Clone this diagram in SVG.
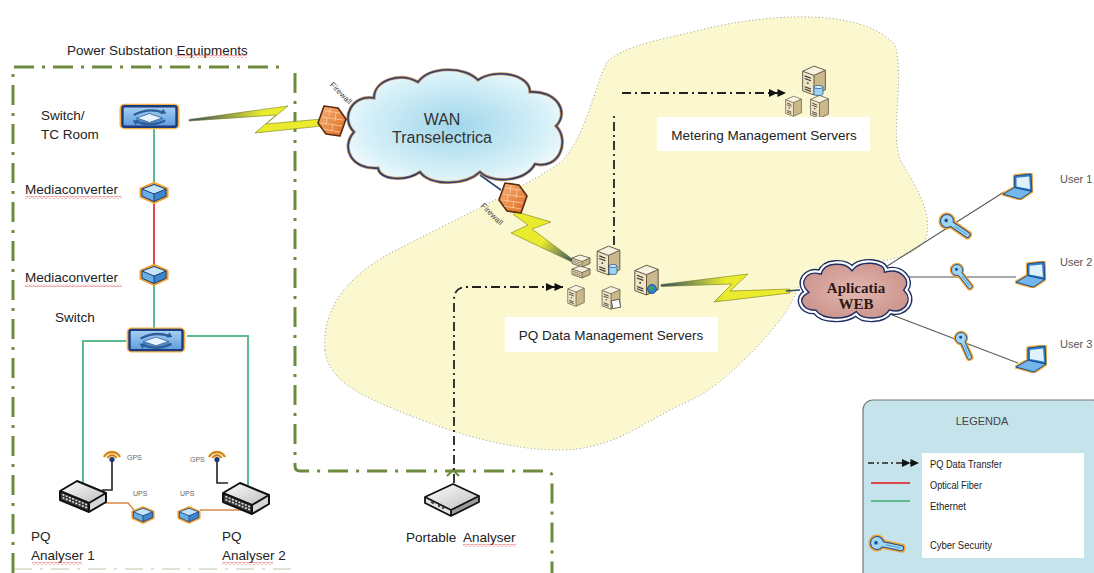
<svg xmlns="http://www.w3.org/2000/svg" xmlns:xlink="http://www.w3.org/1999/xlink" width="1094" height="573" viewBox="0 0 1094 573">
  <style>
    .lbl { font-family: "Liberation Sans", Arial, sans-serif; font-size: 13.5px; fill: #222; }
    .small { font-family: "Liberation Sans", Arial, sans-serif; font-size: 7px; fill: #666; }
    .user { font-family: "Liberation Sans", Arial, sans-serif; font-size: 11px; fill: #555; }
    .leg { font-family: "Liberation Sans", Arial, sans-serif; font-size: 11px; fill: #222; }
    .fw { font-family: "Liberation Sans", Arial, sans-serif; font-size: 8px; fill: #444; }
    .boundary { fill: none; stroke: #6e8b3d; stroke-width: 3; stroke-dasharray: 20 8 3 8; }
    .flow { fill: none; stroke: #222; stroke-width: 1.8; stroke-dasharray: 9 4 2 4; }
    .eth { fill: none; stroke: #5dba8c; stroke-width: 2; }
    .fiber { fill: none; stroke: #e0474c; stroke-width: 2; }
    .thin { fill: none; stroke: #555; stroke-width: 1.1; }
    .bolt { stroke: #7b7b1c; stroke-width: 0.6; stroke-linejoin: miter; }
    .tail { fill: none; stroke: #2c4a6e; stroke-width: 1.6; }
    .squig { fill: url(#squiggle); }
  </style>
  <defs>
    <pattern id="squiggle" width="4" height="3" patternUnits="userSpaceOnUse">
      <path d="M0,2.2 L2,0.6 L4,2.2" fill="none" stroke="#e04040" stroke-width="0.7"/>
    </pattern>
    <marker id="dbl" markerUnits="userSpaceOnUse" markerWidth="18" markerHeight="9" refX="17" refY="4.5" orient="auto">
      <path d="M0,0.5 L8.5,4.5 L0,8.5 Z M8.5,0.5 L17,4.5 L8.5,8.5 Z" fill="#111"/>
    </marker>
    <radialGradient id="wanFill" cx="0.5" cy="0.5" r="0.6">
      <stop offset="0" stop-color="#9fd6ea"/>
      <stop offset="0.7" stop-color="#d6f0f8"/>
      <stop offset="1" stop-color="#f6fcfe"/>
    </radialGradient>
    <radialGradient id="webFill" cx="0.5" cy="0.5" r="0.6">
      <stop offset="0" stop-color="#e2b8b0"/>
      <stop offset="1" stop-color="#c98f88"/>
    </radialGradient>
    <linearGradient id="swFill" x1="0" y1="0" x2="0" y2="1">
      <stop offset="0" stop-color="#a9d2f3"/>
      <stop offset="1" stop-color="#5d9bdc"/>
    </linearGradient>
    <linearGradient id="fwFill" x1="0" y1="0" x2="1" y2="1">
      <stop offset="0" stop-color="#f7b27a"/>
      <stop offset="1" stop-color="#dd6a22"/>
    </linearGradient>
    <linearGradient id="boxTop" x1="0" y1="0" x2="1" y2="1">
      <stop offset="0" stop-color="#ffffff"/>
      <stop offset="1" stop-color="#bdbdbd"/>
    </linearGradient>
    <!-- radio link fills: dark at the emitting end, yellow along the flash -->
    <linearGradient id="bolt1" gradientUnits="userSpaceOnUse" x1="189" y1="0" x2="262" y2="0">
      <stop offset="0" stop-color="#2c4a6e"/>
      <stop offset="1" stop-color="#e9eb2c"/>
    </linearGradient>
    <linearGradient id="bolt2" gradientUnits="userSpaceOnUse" x1="545" y1="238" x2="575" y2="262">
      <stop offset="0" stop-color="#e9eb2c"/>
      <stop offset="1" stop-color="#2c4a6e"/>
    </linearGradient>
    <linearGradient id="bolt3" gradientUnits="userSpaceOnUse" x1="661" y1="0" x2="725" y2="0">
      <stop offset="0" stop-color="#2c4a6e"/>
      <stop offset="1" stop-color="#e9eb2c"/>
    </linearGradient>

    <!-- network switch with sync arrows -->
    <symbol id="sw" viewBox="0 0 62 27">
      <rect x="0.5" y="0.5" width="61" height="26" rx="5" fill="#f6b446"/>
      <rect x="3.5" y="3" width="55" height="21" rx="2" fill="url(#swFill)" stroke="#1e3a80" stroke-width="2.5"/>
      <path d="M18,15 L31,19.5 L44,15 L44,16.6 L31,21 L18,16.6 Z" fill="#6fa6dc" stroke="#2d5d9a" stroke-width="0.6"/>
      <path d="M18,15 L31,10.5 L44,15 L31,19.5 Z" fill="#e8f4fd" stroke="#2d5d9a" stroke-width="0.8"/>
      <path d="M15,12 Q30,4 45,9.5" fill="none" stroke="#2d5d9a" stroke-width="2.4"/>
      <path d="M45,5.5 L48,10.5 L42,11 Z" fill="#2d5d9a"/>
      <path d="M47,17.5 Q32,25 17,18.5" fill="none" stroke="#2d5d9a" stroke-width="2.4"/>
      <path d="M17,22.5 L14,17.5 L20,17 Z" fill="#2d5d9a"/>
    </symbol>

    <!-- small blue box: media converter / UPS -->
    <symbol id="box" viewBox="0 0 30 22">
      <path d="M2,7 L15,1.5 L28,7 L28,14.5 L15,20.5 L2,14.5 Z" fill="#5a9fd8" stroke="#f0a030" stroke-width="3" stroke-linejoin="round"/>
      <path d="M3,7 L15,2.5 L27,7 L15,12 Z" fill="#c4e4f9"/>
      <path d="M3,7 L15,12 L15,19.5 L3,14.2 Z" fill="#6aaee6"/>
      <path d="M15,12 L27,7 L27,14.2 L15,19.5 Z" fill="#3e86cc"/>
      <path d="M3,7 L15,2.5 L27,7 L27,14.2 L15,19.5 L3,14.2 Z M3,7 L15,12 L27,7 M15,12 V19.5" fill="none" stroke="#1b3f78" stroke-width="1"/>
    </symbol>

    <!-- tower server -->
    <symbol id="server" viewBox="0 0 26 32">
      <path d="M2,8 L13,3 L24,7 L13,12 Z" fill="#f8f2e0"/>
      <path d="M2,8 L13,12 L13,31 L2,27 Z" fill="#efe4c4"/>
      <path d="M13,12 L24,7 L24,26 L13,31 Z" fill="#cbb98c"/>
      <path d="M2,8 L13,3 L24,7 L24,26 L13,31 L2,27 Z M2,8 L13,12 L24,7 M13,12 V31" fill="none" stroke="#5b5140" stroke-width="0.9" stroke-linejoin="round"/>
      <path d="M4,12.5 L10,14.8 M4,15 L10,17.3 M4,23 L10,25.3 M4,25.2 L10,27.5" stroke="#3d3a33" stroke-width="1.1"/>
      <circle cx="7" cy="19.5" r="0.9" fill="#3d3a33"/>
    </symbol>

    <!-- flat rack unit -->
    <symbol id="rack" viewBox="0 0 20 14">
      <path d="M1,4 L9,1 L19,4 L11,7.5 Z" fill="#f8f2e0"/>
      <path d="M1,4 L11,7.5 L11,13 L1,9.5 Z" fill="#e8dcba"/>
      <path d="M11,7.5 L19,4 L19,9.5 L11,13 Z" fill="#c6b486"/>
      <path d="M1,4 L9,1 L19,4 L19,9.5 L11,13 L1,9.5 Z M1,4 L11,7.5 L19,4 M11,7.5 V13" fill="none" stroke="#5b5140" stroke-width="0.8"/>
      <path d="M2.5,6.5 L9.5,9 M2.5,8.3 L9.5,10.8" stroke="#444" stroke-width="0.9" stroke-dasharray="1.2 0.8"/>
    </symbol>

    <!-- laptop -->
    <symbol id="laptop" viewBox="0 0 32 28">
      <path d="M1,22 L13,15 L31,19 L19,27 Z M13,15 L13,3 L30,1 L31,19 Z" fill="none" stroke="#f2a93b" stroke-width="3.5" stroke-linejoin="round"/>
      <path d="M1,22 L13,15 L31,19 L19,27 Z" fill="#72b6ec" stroke="#164a86" stroke-width="1"/>
      <path d="M13,15 L13,3 L30,1 L31,19 Z" fill="#2f7fcf" stroke="#164a86" stroke-width="1"/>
      <path d="M15,14 L15,5 L28,3.5 L29,16.5 Z" fill="#e2f2fc"/>
    </symbol>

    <!-- security key -->
    <symbol id="key" viewBox="-1 -1 36 16" overflow="visible">
      <path d="M12,4.5 A6.5,6.5 0 1 0 12,9.5 L31,9.5 Q33,9.5 33,7.5 L33,6.5 Q33,4.5 31,4.5 Z" fill="#9fd6f2" stroke="#f0a030" stroke-width="4" stroke-linejoin="round"/>
      <path d="M12,4.5 A6.5,6.5 0 1 0 12,9.5 L31,9.5 Q33,9.5 33,7.5 L33,6.5 Q33,4.5 31,4.5 Z" fill="#9fd6f2" stroke="#1f4f8f" stroke-width="1"/>
      <path d="M15,7 H30" stroke="#5fa8d8" stroke-width="1.2"/>
      <circle cx="5" cy="7" r="1.8" fill="#1f4f8f"/>
    </symbol>

    <!-- firewall -->
    <symbol id="firewall" viewBox="-16 -17 32 34" overflow="visible">
      <path d="M-8,-15 L6,-13 L14,-2 L8,15 L-6,13 L-14,2 Z" fill="url(#fwFill)" stroke="#5a2a10" stroke-width="1.6" stroke-linejoin="round"/>
      <path d="M-10,-4 L11,-1 M-11,2 L10,5 M-9,8 L8,11 M-7,-10 L8,-8 M-2,-13 L-3,-5 M4,-8 L3,0 M-5,-3 L-6,4 M1,3 L0,10" stroke="#f9cf9e" stroke-width="0.8" fill="none"/>
    </symbol>

    <!-- GPS antenna -->
    <symbol id="gps" viewBox="-10 -10 20 14" overflow="visible">
      <path d="M-8,-1 A9,9 0 0 1 8,-1" fill="none" stroke="#f0a030" stroke-width="2.6"/>
      <path d="M-4.5,0 A5,5 0 0 1 4.5,0" fill="none" stroke="#f0a030" stroke-width="2.4"/>
      <path d="M-8,-1 A9,9 0 0 1 8,-1 M-4.5,0 A5,5 0 0 1 4.5,0" fill="none" stroke="#6b4a10" stroke-width="0.5"/>
      <circle cx="0" cy="1.5" r="2.6" fill="#1a3a7a"/>
    </symbol>

    <!-- PQ analyser -->
    <symbol id="pq" viewBox="0 0 48 36">
      <path d="M1,12 L18,2 L47,14 L30,24 Z" fill="url(#boxTop)"/>
      <path d="M1,12 L30,24 L30,33 L1,21 Z" fill="#3a3a3a"/>
      <path d="M30,24 L47,14 L47,23 L30,33 Z" fill="#d6d6d6"/>
      <path d="M3.5,15.5 L28,25.7 M3.5,18.6 L28,28.8" stroke="#e8e8e8" stroke-width="1.5" stroke-dasharray="2 1.5"/>
      <path d="M1,12 L18,2 L47,14 L47,23 L30,33 L1,21 Z M1,12 L30,24 L47,14 M30,24 V33" fill="none" stroke="#111" stroke-width="2" stroke-linejoin="round"/>
    </symbol>

    <!-- portable analyser -->
    <symbol id="portable" viewBox="0 0 58 36">
      <path d="M2,15 L30,2 L56,14 L28,28 Z" fill="url(#boxTop)"/>
      <path d="M2,15 L28,28 L28,34 L2,21 Z" fill="#e4e4e4"/>
      <path d="M28,28 L56,14 L56,20 L28,34 Z" fill="#9a9a9a"/>
      <path d="M8,20 L11,21.5 M15,23.5 L17,24.5 M19,25.5 L21,26.5" stroke="#333" stroke-width="1.4"/>
      <path d="M2,15 L30,2 L56,14 L56,20 L28,34 L2,21 Z M2,15 L28,28 L56,14 M28,28 V34" fill="none" stroke="#111" stroke-width="1.8" stroke-linejoin="round"/>
    </symbol>
  </defs>

  <rect x="0" y="0" width="1094" height="573" fill="#ffffff"/>

  <!-- shaded zone of the central data centre -->
  <path id="zone" d="M325,350 C322,310 345,280 385,256 C430,232 520,190 560,163 C585,140 595,85 607,62 C625,45 660,40 700,30 C760,15 860,5 895,45 C905,80 890,130 900,160 C915,185 935,215 925,240 C915,258 880,262 850,266 C820,270 800,278 795,295 C790,305 785,315 780,320 C760,345 720,390 680,405 C640,425 610,450 560,450 C520,450 480,440 450,430 C420,420 395,410 380,403 C345,388 327,372 325,350 Z" fill="#fbf8cf" stroke="#999" stroke-width="1" stroke-dasharray="1 2.5"/>

  <!-- substation boundary -->
  <g id="boundary">
    <path class="boundary" d="M13,573 V67 H286"/>
    <path class="boundary" d="M295,73 V466 Q295,471 300,471 H546 Q552,471 552,477 V573"/>
    <path d="M14,569 H292" fill="none" stroke="#b7c4a0" stroke-width="1.4" stroke-dasharray="18 8 3 8" opacity="0.6"/>
    <path d="M447,476 L453,470 L459,476" fill="none" stroke="#6e8b3d" stroke-width="2"/>
  </g>

  <!-- connectors -->
  <g id="connectors">
    <path class="eth" d="M154,129 V185"/>
    <path class="fiber" d="M154,203 V266"/>
    <path class="eth" d="M154,285 V328"/>
    <path class="eth" d="M126,341 H83 V485"/>
    <path class="eth" d="M187,336 H248 V487"/>
    <path d="M112,462 V490 H102" fill="none" stroke="#222" stroke-width="1.6"/>
    <path d="M217,462 V483 H228" fill="none" stroke="#222" stroke-width="1.6"/>
    <path d="M104,503 H128 L134,510" fill="none" stroke="#d9884a" stroke-width="1.4"/>
    <path d="M200,510 H248" fill="none" stroke="#d9884a" stroke-width="1.4"/>

    <!-- radio links -->
    <polygon class="bolt" fill="url(#bolt1)" points="189,119.5 288,106 266,124 322,119 322,126 255,133 276,115 189,121"/>
    <path class="tail" d="M343,119 L352,120"/>
    <path class="tail" d="M480,175 L501,190"/>
    <polygon class="bolt" fill="url(#bolt2)" points="514,211 551,222 532,229 575,261 574,263 511,233 528,225 514,215"/>
    <polygon class="bolt" fill="url(#bolt3)" points="661,284.5 748,274 730,291 790,289 790,293 714,302 732,284 661,286.5"/>
    <path class="tail" d="M786,291 L800,290"/>

    <!-- user links -->
    <path class="thin" d="M881,270 L1004,192"/>
    <path class="thin" d="M903,277 H1016"/>
    <path class="thin" d="M887,313 L1018,363"/>

    <!-- PQ data transfer -->
    <path class="flow" d="M614,245 V112"/>
    <path class="flow" d="M622,93 H786" marker-end="url(#dbl)"/>
    <path class="flow" d="M454,483 V300 Q454,287 467,287 H563" marker-end="url(#dbl)"/>
  </g>

  <text class="lbl" x="67" y="55">Power Substation Equipments</text>
  <rect class="squig" x="175" y="55" width="72" height="3"/>

  <g id="switch-tc">
    <use href="#sw" x="119" y="103" width="61" height="27"/>
    <text class="lbl" x="41" y="120">Switch/</text>
    <text class="lbl" x="41" y="139">TC Room</text>
  </g>

  <g id="mediaconverter-1">
    <use href="#box" x="139" y="182" width="30" height="22"/>
    <text class="lbl" x="25" y="194">Mediaconverter</text>
    <rect class="squig" x="25" y="196" width="97" height="3"/>
  </g>

  <g id="mediaconverter-2">
    <use href="#box" x="139" y="264" width="30" height="22"/>
    <text class="lbl" x="25" y="282">Mediaconverter</text>
    <rect class="squig" x="25" y="284" width="97" height="3"/>
  </g>

  <g id="switch">
    <use href="#sw" x="125" y="327" width="62" height="26"/>
    <text class="lbl" x="55" y="322">Switch</text>
  </g>

  <g id="pq-analyser-1">
    <use href="#pq" x="59" y="479" width="48" height="36"/>
    <use href="#gps" x="102" y="448" width="20" height="14"/>
    <text class="small" x="127" y="460">GPS</text>
    <use href="#box" x="131" y="506" width="24" height="18"/>
    <text class="small" x="133" y="496">UPS</text>
    <text class="lbl" x="31" y="541">PQ</text>
    <text class="lbl" x="31" y="560">Analyser 1</text>
    <rect class="squig" x="32" y="562" width="50" height="3"/>
  </g>

  <g id="pq-analyser-2">
    <use href="#pq" x="222" y="481" width="48" height="36"/>
    <use href="#gps" x="207" y="448" width="20" height="14"/>
    <text class="small" x="190" y="462">GPS</text>
    <use href="#box" x="177" y="506" width="24" height="18"/>
    <text class="small" x="180" y="496">UPS</text>
    <text class="lbl" x="222" y="541">PQ</text>
    <text class="lbl" x="222" y="560">Analyser 2</text>
    <rect class="squig" x="222" y="562" width="51" height="3"/>
  </g>

  <g id="wan">
    <path d="M378,168 C352,170 340,148 354,132 C340,118 352,94 374,98 C374,80 400,72 418,82 C430,66 465,66 478,80 C495,68 530,74 530,92 C556,90 570,112 556,126 C570,140 560,170 535,164 C525,182 492,184 480,172 C465,186 430,186 420,172 C405,182 380,180 378,168 Z" fill="url(#wanFill)" stroke="#c79560" stroke-width="3.2"/>
    <path d="M378,168 C352,170 340,148 354,132 C340,118 352,94 374,98 C374,80 400,72 418,82 C430,66 465,66 478,80 C495,68 530,74 530,92 C556,90 570,112 556,126 C570,140 560,170 535,164 C525,182 492,184 480,172 C465,186 430,186 420,172 C405,182 380,180 378,168 Z" fill="none" stroke="#2d3f70" stroke-width="1.6"/>
    <text class="lbl" x="442" y="125" text-anchor="middle" style="font-size:16px;fill:#333">WAN</text>
    <text class="lbl" x="442" y="143" text-anchor="middle" style="font-size:16px;fill:#333">Transelectrica</text>
  </g>

  <g id="firewall-1">
    <use href="#firewall" x="316" y="104" width="32" height="34"/>
    <text class="fw" transform="translate(339,95) rotate(45)" text-anchor="middle">Firewall</text>
  </g>

  <g id="firewall-2">
    <use href="#firewall" x="497" y="181" width="32" height="34"/>
    <text class="fw" transform="translate(490,216) rotate(45)" text-anchor="middle">Firewall</text>
  </g>

  <g id="pq-servers">
    <use href="#rack" x="571" y="254" width="20" height="14"/>
    <use href="#rack" x="571" y="265" width="20" height="14"/>
    <use href="#server" x="595" y="243" width="27" height="33"/>
    <path d="M609,266 v7 a4,1.5 0 0 0 8,0 v-7 Z" fill="#9fd3f2" stroke="#2b5d96" stroke-width="0.8"/>
    <ellipse cx="613" cy="266" rx="4" ry="1.5" fill="#d8efff" stroke="#2b5d96" stroke-width="0.8"/>
    <use href="#server" x="566" y="283" width="20" height="24"/>
    <use href="#server" x="600" y="284" width="22" height="26"/>
    <rect x="612" y="300" width="8" height="8" fill="#ffffff" stroke="#444" stroke-width="0.8" transform="rotate(-10 616 304)"/>
    <use href="#server" x="632" y="262" width="29" height="34"/>
    <circle cx="652" cy="289" r="4.5" fill="#2f7fd0" stroke="#1c3f73" stroke-width="0.8"/>
    <path d="M649,287 q2,-2 4,0 q1,2 -1,3 q-2,1 -3,-1 Z" fill="#3aa84a"/>
    <rect x="505" y="317" width="213" height="35" fill="#ffffff"/>
    <text class="lbl" x="611" y="340" text-anchor="middle">PQ Data Management Servers</text>
  </g>

  <g id="metering-servers">
    <use href="#server" x="800" y="63" width="28" height="33"/>
    <path d="M814,87 v7 a4.5,1.6 0 0 0 9,0 v-7 Z" fill="#9fd3f2" stroke="#2b5d96" stroke-width="0.8"/>
    <ellipse cx="818.5" cy="87" rx="4.5" ry="1.6" fill="#d8efff" stroke="#2b5d96" stroke-width="0.8"/>
    <use href="#server" x="784" y="94" width="19" height="23"/>
    <use href="#server" x="808" y="93" width="23" height="26"/>
    <rect x="657" y="117" width="213" height="34" fill="#ffffff"/>
    <text class="lbl" x="764" y="140" text-anchor="middle">Metering Management Servers</text>
  </g>

  <g id="portable-analyser">
    <use href="#portable" x="423" y="482" width="58" height="36"/>
    <text class="lbl" x="406" y="542">Portable</text>
    <text class="lbl" x="463" y="542">Analyser</text>
    <rect class="squig" x="463" y="544" width="53" height="3"/>
  </g>

  <g id="aplicatia-web">
    <path d="M815,312 C800,312 795,298 806,292 C796,282 806,268 820,272 C824,260 845,260 852,268 C860,258 885,260 886,270 C902,266 914,280 906,290 C916,300 906,316 890,312 C884,322 862,322 856,314 C846,322 822,322 815,312 Z" fill="url(#webFill)" stroke="#1f2f66" stroke-width="5"/>
    <path d="M815,312 C800,312 795,298 806,292 C796,282 806,268 820,272 C824,260 845,260 852,268 C860,258 885,260 886,270 C902,266 914,280 906,290 C916,300 906,316 890,312 C884,322 862,322 856,314 C846,322 822,322 815,312 Z" fill="none" stroke="#ffffff" stroke-width="2.2"/>
    <text x="856" y="293" text-anchor="middle" style="font-family:'Liberation Serif','Times New Roman',serif;font-size:15px;font-weight:bold;fill:#2a1a1a">Aplicatia</text>
    <text x="856" y="309" text-anchor="middle" style="font-family:'Liberation Serif','Times New Roman',serif;font-size:15px;font-weight:bold;fill:#2a1a1a">WEB</text>
  </g>

  <g id="key-1"><use href="#key" x="-1" y="-1" width="36" height="16" transform="translate(947,221) rotate(34) translate(-6,-7)"/></g>
  <g id="key-2"><use href="#key" x="-1" y="-1" width="36" height="16" transform="translate(957,270) rotate(52) scale(0.85) translate(-6,-7)"/></g>
  <g id="key-3"><use href="#key" x="-1" y="-1" width="36" height="16" transform="translate(961,338) rotate(66) scale(0.85) translate(-6,-7)"/></g>

  <g id="user-1">
    <use href="#laptop" x="1002" y="173" width="31" height="27"/>
    <text class="user" x="1060" y="183">User 1</text>
  </g>
  <g id="user-2">
    <use href="#laptop" x="1015" y="261" width="31" height="27"/>
    <text class="user" x="1060" y="266">User 2</text>
  </g>
  <g id="user-3">
    <use href="#laptop" x="1015" y="345" width="32" height="28"/>
    <text class="user" x="1060" y="348">User 3</text>
  </g>

  <g id="legend">
    <rect x="863" y="400" width="240" height="185" rx="10" fill="#c4e3ea" stroke="#777" stroke-width="1.2"/>
    <text class="leg" x="982" y="425" text-anchor="middle" style="fill:#444">LEGENDA</text>
    <rect x="922" y="453" width="162" height="105" fill="#ffffff"/>
    <path class="flow" d="M868,463 H919" marker-end="url(#dbl)" style="stroke-dasharray:6 3 2 3;stroke-width:1.6"/>
    <text class="leg" x="930" y="468" textLength="72" lengthAdjust="spacingAndGlyphs">PQ Data Transfer</text>
    <path class="fiber" d="M871,483 H910"/>
    <text class="leg" x="930" y="489" textLength="52" lengthAdjust="spacingAndGlyphs">Optical Fiber</text>
    <path class="eth" d="M871,501 H910"/>
    <text class="leg" x="930" y="510" textLength="36" lengthAdjust="spacingAndGlyphs">Ethernet</text>
    <use href="#key" x="-1" y="-1" width="36" height="16" transform="translate(877,543) rotate(12) translate(-6,-7)"/>
    <text class="leg" x="930" y="549" textLength="62" lengthAdjust="spacingAndGlyphs">Cyber Security</text>
  </g>
</svg>
